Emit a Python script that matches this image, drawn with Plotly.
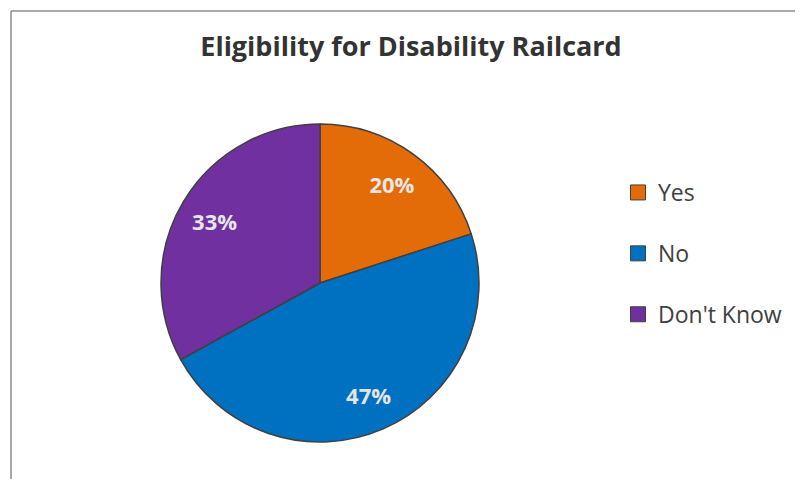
import plotly.graph_objects as go

labels = ["Yes", "No", "Don't Know"]
values = [20, 47, 33]
colors = ["#E36C09", "#0070C0", "#7030A0"]

# page body has an 8px margin; figure fills the rest of the 803x479 window
OFF = 8
W, H = 803 - OFF, 479 - OFF


def px(x):
    return (x - OFF) / W


def py(y):
    return 1 - (y - OFF) / H


pie_domain = dict(x=[px(160), px(480)], y=[py(442), py(124)])

fig = go.Figure()
# the pie itself, with slice outlines
fig.add_trace(go.Pie(
    labels=labels, values=values, sort=False, direction="clockwise", rotation=0,
    marker=dict(colors=colors, line=dict(color="#404040", width=1.5)),
    textinfo="none", domain=pie_domain, showlegend=False, hoverinfo="label+percent",
))
# transparent overlay that carries the percentage labels further out (Excel-like placement)
fig.add_trace(go.Pie(
    labels=labels, values=values, sort=False, direction="clockwise", rotation=0, hole=0.54,
    marker=dict(colors=["rgba(0,0,0,0)"] * len(values), line=dict(width=0)),
    texttemplate="%{percent:.0%}", textposition="inside", insidetextorientation="horizontal",
    textfont=dict(family="Open Sans", size=22, color="#E6E6E6", weight="bold"),
    domain=pie_domain, showlegend=False, hoverinfo="skip",
))
for lab, col in zip(labels, colors):
    fig.add_trace(go.Scatter(
        x=[None], y=[None], mode="markers", name=lab, legendgroup=lab,
        marker=dict(symbol="square", size=15, color=col, line=dict(color="#404040", width=1)),
    ))

fig.update_layout(
    width=W, height=H, margin=dict(l=0, r=0, t=0, b=0),
    paper_bgcolor="white", plot_bgcolor="white",
    xaxis=dict(visible=False), yaxis=dict(visible=False),
    title=dict(text="<b>Eligibility for Disability Railcard</b>", x=px(411), xanchor="center",
               y=py(47), yanchor="middle",
               font=dict(family="Open Sans", size=27, color="#333333")),
    legend=dict(x=px(618), y=py(171), xanchor="left", yanchor="top",
                font=dict(family="Open Sans", size=23, color="#404040"),
                tracegroupgap=28, itemsizing="trace", bgcolor="rgba(0,0,0,0)"),
    shapes=[
        dict(type="line", xref="paper", yref="paper", x0=px(11), x1=1.01, y0=py(11), y1=py(11),
             line=dict(color="#8C8C8C", width=1.5)),
        dict(type="line", xref="paper", yref="paper", x0=px(11), x1=px(11), y0=py(11), y1=-0.01,
             line=dict(color="#8C8C8C", width=1.5)),
    ],
)

fig.write_html("out.html")
